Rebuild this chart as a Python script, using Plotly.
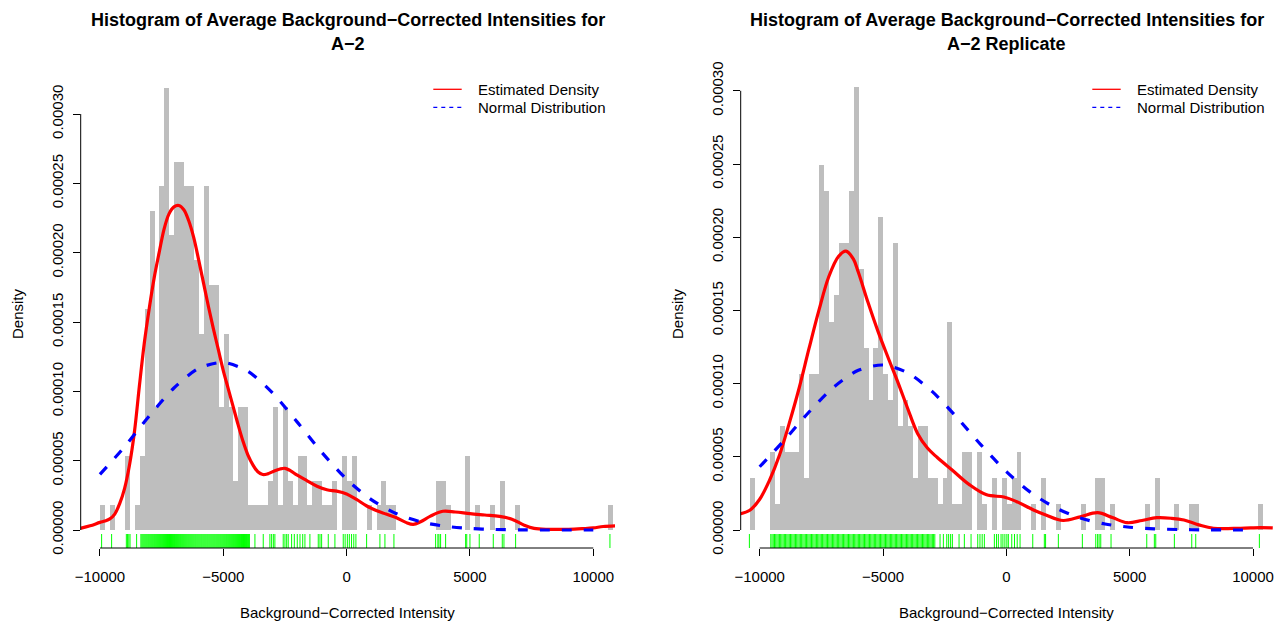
import plotly.graph_objects as go

W, H = 1275, 621
FONT = "Liberation Sans, Arial, Helvetica, sans-serif"

# ---------------- data ----------------
BIN_WIDTH = 200

# Left panel: A-2
left_bin_start = -10000
left_counts = [1, 0, 1, 0, 0, 3, 0, 1, 3, 9,
               13, 5, 14, 18, 12, 15, 15, 14, 14, 11,
               8, 14, 10, 10, 5, 8, 5, 2, 5, 5,
               1, 1, 1, 1, 2, 5, 1, 5, 2, 1,
               3, 3, 1, 2, 2, 1, 1, 2, 0, 3,
               2, 3, 0, 0, 1, 0, 1, 2, 1, 1,
               0, 0, 0, 0, 0, 0, 0, 0, 2, 2,
               1, 0, 0, 0, 3, 0, 1, 0, 0, 1,
               0, 2, 0, 0, 1, 0, 0, 0, 0, 0,
               0, 0, 0, 0, 0, 0, 0, 0, 0, 0,
               0, 0, 0, 1]
left_density_per_count = 1.77e-5

left_kde_x = [-10800, -10400, -10000, -9800, -9600, -9400, -9200, -9000, -8800, -8600,
              -8400, -8200, -8000, -7800, -7600, -7400, -7200, -7000, -6800, -6600,
              -6400, -6200, -6000, -5800, -5600, -5400, -5200, -5000, -4800, -4600,
              -4400, -4200, -4000, -3800, -3600, -3400, -3200, -3000, -2700, -2500,
              -2300, -2000, -1600, -1200, -800, -400, 0, 400, 800, 1200,
              1600, 2000, 2400, 2700, 3000, 3400, 3900, 4400, 5000, 5600,
              6200, 6700, 7200, 7600, 8200, 9000, 9600, 10000, 10400, 10900]
left_kde_y = [1.2e-6, 3.0e-6, 5.5e-6, 6.5e-6, 8.0e-6, 1.15e-5, 1.9e-5, 3.0e-5, 4.7e-5, 7.1e-5,
              1.04e-4, 1.35e-4, 1.60e-4, 1.82e-4, 2.00e-4, 2.17e-4, 2.28e-4, 2.33e-4, 2.34e-4, 2.31e-4,
              2.23e-4, 2.11e-4, 1.95e-4, 1.78e-4, 1.61e-4, 1.45e-4, 1.30e-4, 1.15e-4, 1.02e-4, 8.9e-5,
              7.6e-5, 6.4e-5, 5.4e-5, 4.7e-5, 4.2e-5, 4.0e-5, 4.05e-5, 4.2e-5, 4.4e-5, 4.45e-5,
              4.3e-5, 3.95e-5, 3.55e-5, 3.15e-5, 2.9e-5, 2.8e-5, 2.6e-5, 2.2e-5, 1.75e-5, 1.4e-5,
              1.15e-5, 9.0e-6, 5.5e-6, 4.0e-6, 6.0e-6, 1.0e-5, 1.35e-5, 1.3e-5, 1.18e-5, 1.08e-5,
              9.8e-6, 7.8e-6, 3.5e-6, 1.2e-6, 5e-7, 5e-7, 1.0e-6, 1.5e-6, 2.5e-6, 3.0e-6]

left_norm_x = [-10000, -9000, -8000, -7000, -6000, -5000, -4000, -3000, -2000, -1000,
               0, 1000, 2000, 3000, 4000, 5000, 6000, 7000, 8000, 9000, 10000]
left_norm_y = [4.01e-5, 6.01e-5, 8.22e-5, 1.024e-4, 1.165e-4, 1.2085e-4, 1.144e-4, 9.88e-5, 7.78e-5, 5.59e-5,
               3.66e-5, 2.19e-5, 1.19e-5, 5.9e-6, 2.7e-6, 1.1e-6, 4e-7, 1e-7, 0.0, 0.0, 0.0]

left_rug = [-9932, -9527, -8930, -8880, -8830, -8780, -8513,
            -8340, -8300, -8260, -8220, -8180, -8140, -8100, -8060, -8020, -7980, -7940, -7900,
            -7860, -7820, -7780, -7740, -7700, -7660, -7620, -7580, -7540, -7500, -7460, -7420,
            -7380, -7340, -7300, -7260, -7220, -7180, -7140, -7100, -7060, -7020, -6980, -6940,
            -6900, -6860, -6820, -6780, -6740, -6700, -6660, -6620, -6580, -6540, -6500, -6460,
            -6420, -6380, -6340, -6300, -6260, -6220, -6180, -6140, -6100, -6060, -6020, -5980,
            -5940, -5900, -5860, -5820, -5780, -5740, -5700, -5660, -5620, -5580, -5540, -5500,
            -5460, -5420, -5380, -5340, -5300, -5260, -5220, -5180, -5140, -5100, -5060, -5020,
            -4980, -4940, -4900, -4860, -4820, -4780, -4740, -4700, -4660, -4620, -4580, -4540,
            -4500, -4460, -4420, -4380, -4340, -4300, -4260, -4220, -4180, -4140, -4100, -4060,
            -4020, -3980, -3940,
            -3717, -3380, -3110, -3040, -2970, -2908, -2570, -2500, -2430, -2367, -2230, -2120,
            -2000, -1890, -1780, -1690, -1488, -1150, -1080, -1013, -744, -474, -137, -60,
            30, 110, 200, 290, 377, 811, 1350, 1553, 1918, 3608, 3700, 3743, 3810, 4013,
            4824, 4870, 5000, 5377, 5945, 6310, 6378, 6851, 10675]

# Right panel: A-2 Replicate
right_bin_start = -10400
right_counts = [2, 0, 0, 0, 3, 1, 4, 3, 3, 3,
                6, 2, 6, 6, 14, 13, 8, 9, 11, 11,
                13, 17, 10, 7, 5, 7, 12, 6, 5, 11,
                4, 5, 4, 2, 4, 4, 2, 2, 1, 2,
                8, 1, 1, 3, 3, 0, 3, 1, 0, 2,
                0, 2, 1, 2, 3, 0, 0, 1, 0, 2,
                0, 0, 1, 0, 0, 0, 0, 1, 0, 0,
                2, 2, 0, 1, 0, 0, 0, 0, 0, 0,
                1, 0, 2, 0, 0, 0, 1, 0, 0, 1,
                1, 0, 0, 0, 0, 0, 0, 0, 0, 0,
                0, 0, 0, 1]
right_density_per_count = 1.78e-5

right_kde_x = [-10800, -10400, -10000, -9600, -9200, -8800, -8400, -8000, -7600, -7200,
               -6800, -6500, -6200, -6000, -5600, -5200, -4800, -4400, -4000, -3600,
               -3200, -2800, -2200, -1500, -800, -100, 400, 1100, 1600, 2300,
               3000, 3700, 4300, 4900, 5500, 6100, 6700, 7200, 7800, 8400,
               9500, 10300, 10800]
right_kde_y = [1.1e-5, 1.35e-5, 2.1e-5, 3.4e-5, 5.1e-5, 7.3e-5, 9.7e-5, 1.24e-4, 1.50e-4, 1.73e-4,
               1.87e-4, 1.905e-4, 1.85e-4, 1.76e-4, 1.55e-4, 1.355e-4, 1.18e-4, 1.01e-4, 8.3e-5, 6.6e-5,
               5.6e-5, 4.95e-5, 4.1e-5, 3.1e-5, 2.4e-5, 2.25e-5, 1.95e-5, 1.37e-5, 1.03e-5, 6.5e-6,
               9.0e-6, 1.18e-5, 8.5e-6, 5.0e-6, 6.5e-6, 8.4e-6, 8.0e-6, 6.8e-6, 3.5e-6, 1.2e-6,
               1.2e-6, 1.6e-6, 1.4e-6]

right_norm_x = [-10000, -9000, -8000, -7000, -6000, -5000, -4000, -3000, -2000, -1000,
                0, 1000, 2000, 3000, 4000, 5000, 6000, 7000, 8000, 9000, 10000]
right_norm_y = [4.32e-5, 6.14e-5, 8.06e-5, 9.76e-5, 1.091e-4, 1.127e-4, 1.074e-4, 9.45e-5, 7.68e-5, 5.76e-5,
                3.99e-5, 2.55e-5, 1.51e-5, 8.2e-6, 4.1e-6, 1.9e-6, 8e-7, 3e-7, 1e-7, 0.0, 0.0]

right_rug = [-10418,
             -9550, -9500, -9450, -9400, -9350, -9300, -9250, -9200, -9150, -9100, -9050, -9000,
             -8950, -8900, -8850, -8800, -8750, -8700, -8650, -8600, -8550, -8500, -8450, -8400,
             -8350, -8300, -8250, -8200, -8150, -8100, -8050, -8000, -7950, -7900, -7850, -7800,
             -7750, -7700, -7650, -7600, -7550, -7500, -7450, -7400, -7350, -7300, -7250, -7200,
             -7150, -7100, -7050, -7000, -6950, -6900, -6850, -6800, -6750, -6700, -6650, -6600,
             -6550, -6500, -6450, -6400, -6350, -6300, -6250, -6200, -6150, -6100, -6050, -6000,
             -5950, -5900, -5850, -5800, -5750, -5700, -5650, -5600, -5550, -5500, -5450, -5400,
             -5350, -5300, -5250, -5200, -5150, -5100, -5050, -5000, -4950, -4900, -4850, -4800,
             -4750, -4700, -4650, -4600, -4550, -4500, -4450, -4400, -4350, -4300, -4250, -4200,
             -4150, -4100, -4050, -4000, -3950, -3900, -3850, -3800, -3750, -3700, -3650, -3600,
             -3550, -3500, -3450, -3400, -3350, -3300, -3250, -3200, -3150, -3100, -3050, -3000,
             -2950, -2900,
             -2688, -2554, -2416, -2340, -2260, -2189, -1918, -1703, -1431, -1160, -1070, -980,
             -892, -486, -400, -324, -215, -140, -60, 20, 81, 219, 330, 440, 555, 1070, 1540,
             1590, 2108, 3081, 3624, 3700, 3760, 3827, 4244, 5692, 6000, 6057, 6811, 7516,
             7678, 10257]

x_tickvals = [-10000, -5000, 0, 5000, 10000]
x_ticktext = ["\u221210000", "\u22125000", "0", "5000", "10000"]
y_tickvals = [0, 0.00005, 0.0001, 0.00015, 0.0002, 0.00025, 0.0003]
y_ticktext = ["0.00000", "0.00005", "0.00010", "0.00015", "0.00020", "0.00025", "0.00030"]

titles = [("Histogram of Average Background\u2212Corrected Intensities for", "A\u22122"),
          ("Histogram of Average Background\u2212Corrected Intensities for", "A\u22122 Replicate")]
x_title = "Background\u2212Corrected Intensity"
y_title = "Density"
legend_labels = ["Estimated Density", "Normal Distribution"]

# ---------------- layout geometry (pixels) ----------------
PLOT_TOP, PLOT_BOTTOM, ZERO_Y = 80, 548, 530
panels = [
    dict(left=80.7, right=615.0, xrange=[-10780, 10880], px_per_unit=69.33 / 0.00005,
         bin_start=left_bin_start, counts=left_counts, dpc=left_density_per_count,
         kde=(left_kde_x, left_kde_y), norm=(left_norm_x, left_norm_y), rug=left_rug,
         ytitle_x=17, leg_line=(433.3, 461.7), leg_text=476),
    dict(left=740.7, right=1273.0, xrange=[-10770, 10810], px_per_unit=73.2 / 0.00005,
         bin_start=right_bin_start, counts=right_counts, dpc=right_density_per_count,
         kde=(right_kde_x, right_kde_y), norm=(right_norm_x, right_norm_y), rug=right_rug,
         ytitle_x=677, leg_line=(1092.3, 1120.7), leg_text=1135),
]

fig = go.Figure()
shapes, annotations = [], []


def py(p):
    return 1 - p / H


for i, p in enumerate(panels):
    xa = "x" if i == 0 else "x2"
    ya = "y" if i == 0 else "y2"
    ppu = p["px_per_unit"]
    y_lo = -(PLOT_BOTTOM - ZERO_Y) / ppu
    y_hi = (ZERO_Y - PLOT_TOP) / ppu
    rug_top = y_lo + 14 / ppu

    centers = [p["bin_start"] + BIN_WIDTH * (k + 0.5) for k in range(len(p["counts"]))]
    dens = [c * p["dpc"] for c in p["counts"]]
    fig.add_trace(go.Bar(x=centers, y=dens, width=BIN_WIDTH, marker=dict(color="#BEBEBE", line=dict(width=0)),
                         xaxis=xa, yaxis=ya, showlegend=False, hoverinfo="skip"))

    rx, ry = [], []
    for v in p["rug"]:
        rx += [v, v, None]
        ry += [y_lo, rug_top, None]
    fig.add_trace(go.Scatter(x=rx, y=ry, mode="lines", line=dict(color="#00FF00", width=1),
                             xaxis=xa, yaxis=ya, showlegend=False, hoverinfo="skip"))

    fig.add_trace(go.Scatter(x=p["kde"][0], y=p["kde"][1], mode="lines",
                             line=dict(color="#FF0000", width=3.2, shape="spline", smoothing=1.0),
                             xaxis=xa, yaxis=ya, showlegend=False))
    fig.add_trace(go.Scatter(x=p["norm"][0], y=p["norm"][1], mode="lines",
                             line=dict(color="#0000FF", width=3.2, dash="10px,12px", shape="spline", smoothing=0.8),
                             xaxis=xa, yaxis=ya, showlegend=False))

    dom_x = [p["left"] / W, p["right"] / W]
    dom_y = [py(PLOT_BOTTOM), py(PLOT_TOP)]
    axis_common = dict(showgrid=False, zeroline=False, showline=False, ticks="outside", ticklen=7,
                       tickcolor="#000000", tickwidth=1, automargin=False,
                       tickfont=dict(family=FONT, size=15, color="#000000"))
    fig.layout["xaxis" if i == 0 else "xaxis2"] = dict(
        domain=dom_x, range=p["xrange"], anchor=ya, tickvals=x_tickvals, ticktext=x_ticktext,
        ticklabelstandoff=8, **axis_common)
    fig.layout["yaxis" if i == 0 else "yaxis2"] = dict(
        domain=dom_y, range=[y_lo, y_hi], anchor=xa, tickvals=y_tickvals, ticktext=y_ticktext,
        tickangle=-90, ticklabelstandoff=4, **axis_common)

    # partial axis lines as in base R
    shapes.append(dict(type="line", xref=xa, yref="paper", x0=-10000, x1=10000,
                       y0=py(PLOT_BOTTOM), y1=py(PLOT_BOTTOM), line=dict(color="#000000", width=1)))
    shapes.append(dict(type="line", xref="paper", yref=ya, x0=p["left"] / W, x1=p["left"] / W,
                       y0=0, y1=0.0003, line=dict(color="#000000", width=1)))

    cx = (p["left"] + p["right"]) / 2 / W
    annotations.append(dict(x=cx, y=py(20), xref="paper", yref="paper", text="<b>%s</b>" % titles[i][0],
                            showarrow=False, font=dict(family=FONT, size=18, color="#000000"),
                            xanchor="center", yanchor="middle"))
    annotations.append(dict(x=cx, y=py(44), xref="paper", yref="paper", text="<b>%s</b>" % titles[i][1],
                            showarrow=False, font=dict(family=FONT, size=18, color="#000000"),
                            xanchor="center", yanchor="middle"))
    annotations.append(dict(x=cx, y=py(612), xref="paper", yref="paper", text=x_title, showarrow=False,
                            font=dict(family=FONT, size=15, color="#000000"), xanchor="center", yanchor="middle"))
    annotations.append(dict(x=p["ytitle_x"] / W, y=py((PLOT_TOP + PLOT_BOTTOM) / 2), xref="paper", yref="paper",
                            text=y_title, textangle=-90, showarrow=False,
                            font=dict(family=FONT, size=15, color="#000000"), xanchor="center", yanchor="middle"))

    # legend (no box)
    l0, l1 = p["leg_line"]
    shapes.append(dict(type="line", xref="paper", yref="paper", x0=l0 / W, x1=l1 / W, y0=py(89.3), y1=py(89.3),
                       line=dict(color="#FF0000", width=1.3)))
    shapes.append(dict(type="line", xref="paper", yref="paper", x0=l0 / W, x1=l1 / W, y0=py(107.3), y1=py(107.3),
                       line=dict(color="#0000FF", width=1.3, dash="4px,4px")))
    for j, lab in enumerate(legend_labels):
        annotations.append(dict(x=p["leg_text"] / W, y=py(89.3 + 18 * j), xref="paper", yref="paper", text=lab,
                                showarrow=False, font=dict(family=FONT, size=15, color="#000000"),
                                xanchor="left", yanchor="middle"))

fig.update_layout(width=W, height=H, autosize=False, margin=dict(l=0, r=0, t=0, b=0, pad=0),
                  paper_bgcolor="#FFFFFF", plot_bgcolor="#FFFFFF", bargap=0, barmode="overlay",
                  showlegend=False, shapes=shapes, annotations=annotations)

fig.write_html("out.html")
